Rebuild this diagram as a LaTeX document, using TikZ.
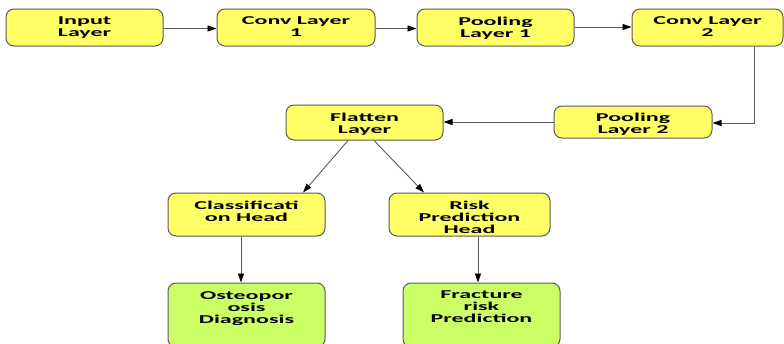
\documentclass[tikz,border=0pt]{standalone}
\usepackage{fontspec}
\newfontfamily\boxfont{Carlito}[FakeStretch=2.0]
\usetikzlibrary{arrows.meta}
\definecolor{boxyellow}{HTML}{FFFF66}
\definecolor{boxgreen}{HTML}{CCFF66}
\definecolor{boxline}{HTML}{5A5A5A}
\definecolor{arrline}{HTML}{5C5C5C}
\tikzset{
  stage/.style={draw=boxline, line width=1pt, rounded corners=8pt, fill=boxyellow, inner sep=0pt},
  outbox/.style={stage, fill=boxgreen},
  lbl/.style={anchor=north, inner sep=0pt, align=center, font=\boxfont\bfseries\fontsize{12}{12}\selectfont},
  conn/.style={draw=arrline, line width=0.9pt, -{Triangle[length=9pt,width=6pt,fill=black,color=black]}}
}
\begin{document}
\begin{tikzpicture}[x=1pt,y=-1pt]
\useasboundingbox (0,0) rectangle (784,343);
\begin{scope}
\clip (0,0) rectangle (784,343);
% first row
\node[stage, minimum width=157pt, minimum height=37pt] (in) at (84.5,27.5) {};
\node[stage, minimum width=158pt, minimum height=37pt] (c1) at (296,27.5) {};
\node[stage, minimum width=157pt, minimum height=37pt] (p1) at (495.5,27.5) {};
\node[stage, minimum width=151pt, minimum height=37pt] (c2) at (707.5,27.5) {};
% second row
\node[stage, minimum width=158pt, minimum height=32pt] (p2) at (633,122) {};
\node[stage, minimum width=157pt, minimum height=35pt] (fl) at (364.5,122.5) {};
% heads
\node[stage, minimum width=157pt, minimum height=43pt] (ch) at (246.5,214.5) {};
\node[stage, minimum width=161pt, minimum height=43pt] (rh) at (469.5,214.5) {};
% outputs
\node[outbox, minimum width=157pt, minimum height=64pt] (od) at (246.5,315) {};
\node[outbox, minimum width=157pt, minimum height=64pt] (fr) at (481.5,315) {};
\end{scope}
% labels
\node[lbl] (tin) at ([yshift=-8pt]in.north) {Input\\Layer};
\node[lbl] (tc1) at ([yshift=-8pt]c1.north) {Conv Layer\\1};
\node[lbl] (tp1) at ([yshift=-8pt]p1.north) {Pooling\\Layer 1};
\node[lbl] (tc2) at ([yshift=-8pt]c2.north) {Conv Layer\\2};
\node[lbl] (tp2) at ([yshift=-7.5pt]p2.north) {Pooling\\Layer 2};
\node[lbl] (tfl) at ([yshift=-8.5pt]fl.north) {Flatten\\Layer};
\node[lbl] (tch) at ([yshift=-8.5pt]ch.north) {Classificati\\on Head};
\node[lbl] (trh) at ([yshift=-8.5pt]rh.north) {Risk\\Prediction\\Head};
\node[lbl] (tod) at ([yshift=-8.5pt]od.north) {Osteopor\\osis\\Diagnosis};
\node[lbl] (tfr) at ([yshift=-8.5pt]fr.north) {Fracture\\risk\\Prediction};
% connectors
\draw[conn] (in.east |- 0,28.5) -- (c1.west |- 0,28.5);
\draw[conn] (c1.east |- 0,28.5) -- (p1.west |- 0,28.5);
\draw[conn] (p1.east |- 0,27) -- (c2.west |- 0,27);
\draw[conn] (c2.south -| 754,0) |- (p2.east |- 0,123);
\draw[conn] (p2.west) -- (fl.east |- p2.west);
\draw[conn] (fl.south -| 348,0) -- (ch.north -| 303,0);
\draw[conn] (fl.south -| 374,0) -- (rh.north -| 424,0);
\draw[conn] (ch.south -| 241,0) -- (od.north -| 241,0);
\draw[conn] (rh.south -| 478,0) -- (fr.north -| 478,0);
\end{tikzpicture}
\end{document}
